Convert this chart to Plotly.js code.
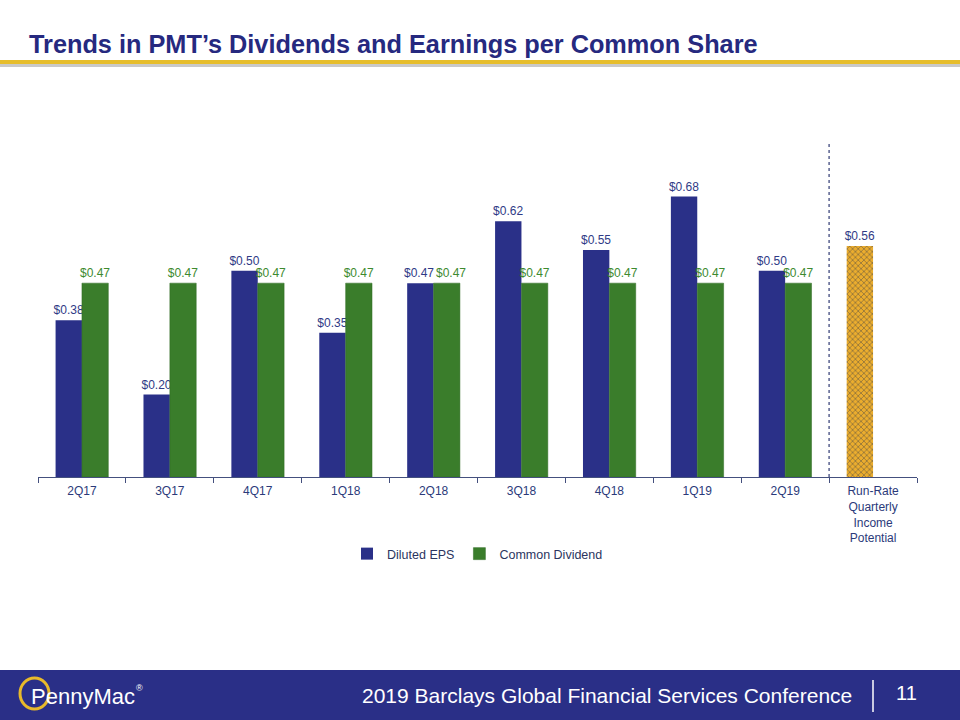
<!DOCTYPE html>
<html>
<head>
<meta charset="utf-8">
<script src="https://cdn.plot.ly/plotly-3.0.1.min.js"></script>
<style>
  html, body { margin: 0; padding: 0; background: #fff; }
  #chart { width: 960px; height: 720px; }
</style>
</head>
<body>
<div id="chart"></div>
<script>
// quarters on the x axis
var quarters = ["2Q17", "3Q17", "4Q17", "1Q18", "2Q18", "3Q18", "4Q18", "1Q19", "2Q19",
    "Run-Rate<br>Quarterly<br>Income<br>Potential"];

// per share values
var dilutedEps = [0.38, 0.20, 0.50, 0.35, 0.47, 0.62, 0.55, 0.68, 0.50, 0.56];
var commonDividend = [0.47, 0.47, 0.47, 0.47, 0.47, 0.47, 0.47, 0.47, 0.47, null];

var navy = "#2a3088";
var green = "#3a7d2b";
var gold = "#ebad2e";
var blueText = "#2f3a86";
var greenText = "#3d8a2f";

// last bar is the run-rate estimate, drawn gold with a checker pattern
var last = dilutedEps.length - 1;
var epsColors = dilutedEps.map((v, i) => i == last ? gold : navy);
var epsPattern = dilutedEps.map((v, i) => i == last ? "x" : "");

// 2Q18 labels sit side by side on the slide, nudged apart -> drawn as annotations
var nudged = 4;
var epsLabels = dilutedEps.map((v, i) => i == nudged ? "" : "$%{y:.2f}");
var divLabels = commonDividend.map((v, i) => i == nudged ? "" : "$%{y:.2f}");

var trace1 = {
    x: quarters,
    y: dilutedEps,
    name: "Diluted EPS",
    type: "bar",
    marker: {
        color: epsColors,
        pattern: {
            shape: epsPattern,
            fillmode: "overlay",
            fgcolor: "#fcdc66",
            size: 4,
            solidity: 0.4
        }
    },
    texttemplate: epsLabels,
    textposition: "outside",
    constraintext: "none",
    cliponaxis: false,
    textfont: { family: "Liberation Sans, Arial, sans-serif", size: 12, color: blueText },
    hoverinfo: "skip"
};

var trace2 = {
    x: quarters,
    y: commonDividend,
    name: "Common Dividend",
    type: "bar",
    marker: { color: green, line: { color: "#2f6a22", width: 0.5 } },
    texttemplate: divLabels,
    textposition: "outside",
    constraintext: "none",
    cliponaxis: false,
    textfont: { family: "Liberation Sans, Arial, sans-serif", size: 12, color: greenText },
    hoverinfo: "skip"
};

var data = [trace1, trace2];

// helpers to go from page pixels to paper coords (plot box is 38..917 x 147..477)
function px(x) { return (x - 38) / 879; }
function py(y) { return (477 - y) / 330; }

var layout = {
    width: 960,
    height: 720,
    margin: { l: 38, r: 43, t: 147, b: 243 },
    paper_bgcolor: "#ffffff",
    plot_bgcolor: "#ffffff",
    font: { family: "Liberation Sans, Arial, sans-serif", size: 12, color: "#2b3a7a" },
    barmode: "group",
    bargap: 0.4,
    bargroupgap: 0,
    showlegend: true,
    legend: {
        orientation: "h",
        x: 0.5, xanchor: "center",
        y: py(554), yanchor: "middle",
        font: { size: 12.5, color: "#2b3560" },
        itemwidth: 30
    },
    xaxis: {
        type: "category",
        range: [-0.5, 9.5],
        showline: true,
        linecolor: "#44507e",
        linewidth: 1,
        ticks: "outside",
        tickson: "boundaries",
        ticklen: 5,
        tickcolor: "#44507e",
        ticklabelstandoff: 3,
        tickfont: { size: 12, color: "#2b3a7a" },
        showgrid: false,
        zeroline: false,
        fixedrange: true
    },
    yaxis: {
        range: [0, 0.8],
        visible: false,
        showgrid: false,
        zeroline: false,
        fixedrange: true
    },
    shapes: [
        // dotted divider before run-rate
        { type: "line", xref: "x", yref: "paper", x0: 8.5, x1: 8.5, y0: 0, y1: py(144),
          line: { color: "#5a6290", width: 1.5, dash: "dot" } },
        // gold rule under the title with shadow
        { type: "rect", xref: "paper", yref: "paper", x0: px(0), x1: px(960), y0: py(64), y1: py(67),
          fillcolor: "#c9c9c9", line: { width: 0 } },
        { type: "rect", xref: "paper", yref: "paper", x0: px(0), x1: px(960), y0: py(60), y1: py(64),
          fillcolor: "#e6bd2c", line: { width: 0 } },
        // footer band
        { type: "rect", xref: "paper", yref: "paper", x0: px(0), x1: px(960), y0: py(670), y1: py(720),
          fillcolor: "#2a2f87", line: { width: 0 } },
        { type: "line", xref: "paper", yref: "paper", x0: px(873), x1: px(873), y0: py(680), y1: py(712),
          line: { color: "#ffffff", width: 1.5 } },
        // logo ring
        { type: "circle", xref: "paper", yref: "paper", x0: px(20), x1: px(49), y0: py(678), y1: py(709),
          line: { color: "#e8b92a", width: 3 } }
    ],
    annotations: [
        { text: "$" + dilutedEps[nudged].toFixed(2), xref: "x", yref: "y",
          x: quarters[nudged], y: dilutedEps[nudged], xanchor: "center", yanchor: "bottom",
          xshift: -15, yshift: 1, showarrow: false,
          font: { size: 12, color: blueText } },
        { text: "$" + commonDividend[nudged].toFixed(2), xref: "x", yref: "y",
          x: quarters[nudged], y: commonDividend[nudged], xanchor: "center", yanchor: "bottom",
          xshift: 17, yshift: 1, showarrow: false,
          font: { size: 12, color: greenText } },
        { text: "<b>Trends in PMT\u2019s Dividends and Earnings per Common Share</b>",
          xref: "paper", yref: "paper", x: px(27), y: py(44), xanchor: "left", yanchor: "middle",
          showarrow: false, font: { size: 25.3, color: "#26297f" } },
        { text: "2019 Barclays Global Financial Services Conference",
          xref: "paper", yref: "paper", x: px(854), y: py(695), xanchor: "right", yanchor: "middle",
          showarrow: false, font: { size: 21, color: "#ffffff" } },
        { text: "11",
          xref: "paper", yref: "paper", x: px(906), y: py(693), xanchor: "center", yanchor: "middle",
          showarrow: false, font: { size: 20, color: "#ffffff" } },
        { text: "PennyMac",
          xref: "paper", yref: "paper", x: px(29), y: py(696), xanchor: "left", yanchor: "middle",
          showarrow: false, font: { size: 22, color: "#ffffff" } },
        { text: "\u00ae",
          xref: "paper", yref: "paper", x: px(134), y: py(688), xanchor: "left", yanchor: "middle",
          showarrow: false, font: { size: 9, color: "#ffffff" } }
    ]
};

Plotly.newPlot("chart", data, layout, { displayModeBar: false, staticPlot: true });
</script>
</body>
</html>
